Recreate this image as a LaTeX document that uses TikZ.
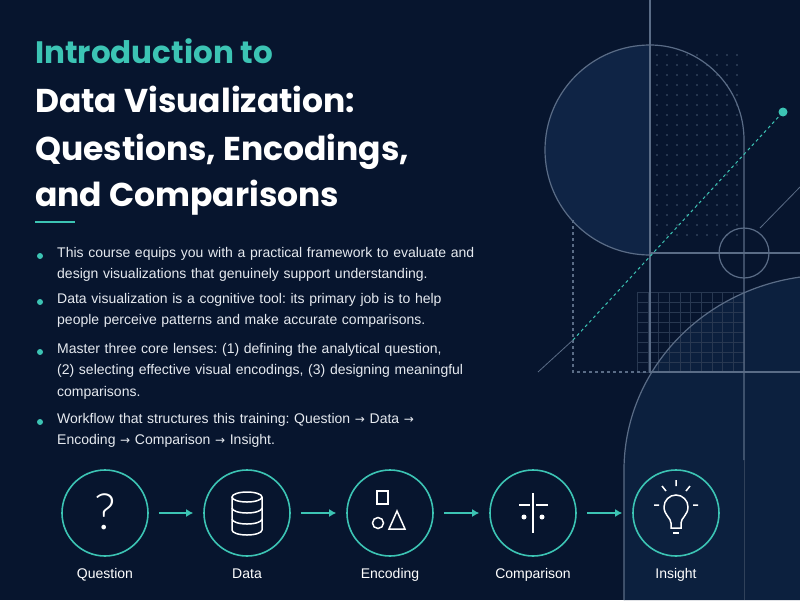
\documentclass[tikz,border=0pt]{standalone}
\usepackage{fontspec}
\setmainfont{Liberation Sans}
\newfontfamily\titlefont{Poppins}[UprightFont=* Bold]
\newfontfamily\thinfont{Lato Light}
\begin{document}
\frenchspacing
\begin{tikzpicture}[x=1pt,y=-1pt,
  geo/.style={draw=gline,line width=1.2pt},
  ring/.style={circle,draw=teal1,line width=1.6pt,minimum size=86pt,inner sep=0pt},
  flow/.style={draw=teal1,line width=1.8pt,-{Latex[length=7pt,width=8pt]},shorten <=10pt,shorten >=10pt},
  lab/.style={text=white,font=\fontsize{14}{16}\selectfont,anchor=base},
  body/.style={text=bodyc,font=\fontsize{14}{21.5}\selectfont,anchor=north west,align=left,text width=450pt,inner sep=0pt},
  ico/.style={draw=white,line width=1.5pt}]
\definecolor{bg}{HTML}{07152E}
\definecolor{teal1}{HTML}{3CC4B4}
\definecolor{gline}{HTML}{5A6C86}
\definecolor{bodyc}{HTML}{E6EAF0}
\definecolor{fillc}{HTML}{0F2445}
\usetikzlibrary{arrows.meta}
\hyphenpenalty=10000 \exhyphenpenalty=10000
\fill[bg] (0,0) rectangle (800,600);
\useasboundingbox (0,0) rectangle (800,600);
% decoration
\begin{scope}
\clip (0,0) rectangle (800,600);
\fill[fillc] (650,45) arc[start angle=270,end angle=90,radius=105] -- cycle;
\fill[fillc!70!bg] (624,600) -- (624,470) arc[start angle=180,end angle=270,x radius=206,y radius=195] -- (830,600) -- cycle;
\foreach \i in {0,...,8} \foreach \j in {0,...,18}
  \fill[gline!75!bg] (657+\i*10,55+\j*10) circle[radius=0.8];
\foreach \i in {0,...,10} \draw[gline!40!bg,line width=0.4pt] (637+\i*10.7,292) -- (637+\i*10.7,372);
\foreach \j in {0,...,8} \draw[gline!40!bg,line width=0.4pt] (637,292+\j*10) -- (744,292+\j*10);
\draw[geo] (650,0) -- (650,372);
\draw[geo] (650,255) arc[start angle=90,end angle=270,radius=105]
  arc[start angle=270,end angle=360,x radius=94,y radius=95] -- (744,460);
\draw[gline!50!bg,line width=1pt] (744,460) -- (744,600);
\draw[geo] (650,253) -- (800,253);
\draw[geo] (744,253) circle[radius=25];
\draw[geo,dashed] (573,220) -- (573,372) -- (650,372);
\draw[geo] (650,372) -- (800,372);
\draw[geo] (624,600) -- (624,470) arc[start angle=180,end angle=280,x radius=206,y radius=195];
\draw[gline,line width=0.8pt] (760,228) -- (800,187);
\draw[gline,line width=0.8pt] (538,372) -- (573,340);
\draw[teal1,line width=1pt,dashed] (573,340) -- (783,112);
\fill[teal1] (783,112) circle[radius=4.5];
\end{scope}
% title
\node[anchor=base west,inner sep=0,text=teal1,font=\titlefont\fontsize{31}{36}\selectfont] (t1) at (35,63) {Introduction to};
\node[anchor=base west,inner sep=0,text=white,font=\titlefont\fontsize{33}{38}\selectfont] (t2) at (35,112) {Data Visualization:};
\node[anchor=base west,inner sep=0,text=white,font=\titlefont\fontsize{33}{38}\selectfont] (t3) at (35,160) {Questions, Encodings,};
\node[anchor=base west,inner sep=0,text=white,font=\titlefont\fontsize{33}{38}\selectfont] (t4) at (35,206) {and Comparisons};
\draw[teal1,line width=2.5pt] (35,222) -- (75,222);
% bullets
\foreach \y in {256,302,352,422} \fill[teal1] (40,\y) circle[radius=3];
\node[body] (b1) at (57,247) {This course equips you with a practical framework to evaluate and\\design visualizations that genuinely support understanding.};
\node[body] (b2) at (57,293) {Data visualization is a cognitive tool: its primary job is to help\\people perceive patterns and make accurate comparisons.};
\node[body] (b3) at (57,343) {Master three core lenses: (1) defining the analytical question,\\(2) selecting effective visual encodings, (3) designing meaningful\\comparisons.};
\node[body] (b4) at (57,413) {Workflow that structures this training: Question {\fontspec{DejaVu Sans}\fontsize{12}{12}\selectfont→} Data {\fontspec{DejaVu Sans}\fontsize{12}{12}\selectfont→}\\Encoding {\fontspec{DejaVu Sans}\fontsize{12}{12}\selectfont→} Comparison {\fontspec{DejaVu Sans}\fontsize{12}{12}\selectfont→} Insight.};
% flow
\node[ring] (q) at (105,513) {};
\node[ring] (d) at (247,513) {};
\node[ring] (e) at (390,513) {};
\node[ring] (c) at (533,513) {};
\node[ring] (i) at (676,513) {};
\draw[flow] (q) -- (d);
\draw[flow] (d) -- (e);
\draw[flow] (e) -- (c);
\draw[flow] (c) -- (i);
\node[lab] (lq) at (105,578) {Question};
\node[lab] (ld) at (247,578) {Data};
\node[lab] (le) at (390,578) {Encoding};
\node[lab] (lc) at (533,578) {Comparison};
\node[lab] (li) at (676,578) {Insight};
% icons
\node[text=white,font=\thinfont\fontsize{50}{50}\selectfont] (qm) at (105,512) {?};
\begin{scope}[shift={(247,0)}]
\draw[ico] (-15,497) -- (-15,530) arc[start angle=180,end angle=0,x radius=15,y radius=5] -- (15,497);
\draw[ico] (0,497) ellipse[x radius=15,y radius=5];
\draw[ico] (-15,508) arc[start angle=180,end angle=0,x radius=15,y radius=5];
\draw[ico] (-15,519) arc[start angle=180,end angle=0,x radius=15,y radius=5];
\end{scope}
\draw[ico] (377,491) rectangle (388,504);
\draw[ico] (378,523) circle[radius=5.5];
\draw[ico] (389,529) -- (397,511) -- (405,529) -- cycle;
\draw[ico] (519,505) -- (530,505) (536,505) -- (548,505) (533,493) -- (533,533);
\fill[white] (524,517) circle[radius=2.5] (542,517) circle[radius=2.5];
\begin{scope}[shift={(676,0)}]
\draw[ico] (-5,528) -- (-5,523) .. controls (-5,518) and (-12,515) .. (-12,507) arc[start angle=180,end angle=360,radius=12] .. controls (12,515) and (5,518) .. (5,523) -- (5,528) -- cycle;
\draw[ico] (-3,533) -- (3,533);
\draw[ico] (0,480) -- (0,486) (-14,486) -- (-10,491) (14,486) -- (10,491) (-22,505) -- (-17,505) (22,505) -- (17,505);
\end{scope}
\end{tikzpicture}
\end{document}
